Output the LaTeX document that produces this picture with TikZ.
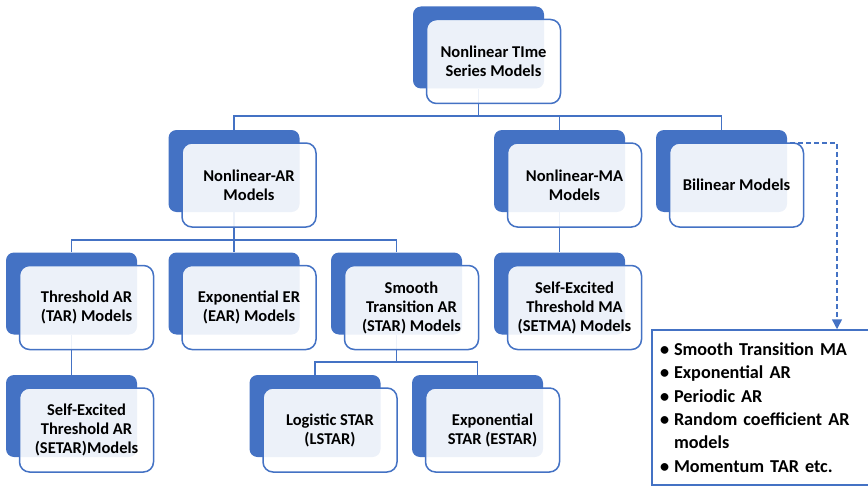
\documentclass[tikz,border=0pt]{standalone}
\usepackage{fontspec}
\setmainfont{Carlito}
\usetikzlibrary{arrows.meta,backgrounds}
\definecolor{acc}{RGB}{68,114,196}
\tikzset{
  backbox/.style={fill=acc, rounded corners=8pt, minimum width=131pt,
    minimum height=82pt, inner sep=0pt},
  frontbox/.style={draw=acc, line width=1.5pt, fill=white, fill opacity=0.9,
    text opacity=1, rounded corners=10pt, minimum width=134pt,
    minimum height=84pt, inner sep=0pt, align=center,
    font=\fontsize{16.5}{19}\selectfont\bfseries},
  conn/.style={draw=acc, line width=1.5pt},
  dashconn/.style={draw=acc, line width=1.5pt, dash pattern=on 5pt off 3pt,
    -{Triangle[width=10pt,length=10pt]}},
  listbox/.style={draw=acc, line width=1.5pt, fill=white,
    minimum width=219pt, minimum height=155pt, inner xsep=8pt, inner ysep=0pt,
    text width=203pt, align=left,
    font=\fontsize{18.2}{23.4}\selectfont\bfseries},
}
% a model box: dark card behind, translucent card in front carrying the text
\newcommand\modelbox[3]{%
  \node[backbox] (#1-b) at ([xshift=-15pt,yshift=14pt]#2) {};
  \node[frontbox] (#1) at (#2) {#3};
}
\newcommand\bul{\makebox[14pt][l]{\textbullet}}
\begin{document}
\begin{tikzpicture}[x=1pt,y=-1pt]
\useasboundingbox (0,0) rectangle (868,487);

\modelbox{top}{493.5,61.5}{Nonlinear TIme\\Series Models}
\modelbox{nar}{249,185}{Nonlinear-AR\\Models}
\modelbox{nma}{574.5,185}{Nonlinear-MA\\Models}
\modelbox{bil}{736.5,185}{Bilinear Models}
\modelbox{tar}{86.5,307.5}{Threshold AR\\(TAR) Models}
\modelbox{ear}{249,307.5}{Exponential ER\\(EAR) Models}
\modelbox{star}{411.5,307.5}{Smooth\\Transition AR\\(STAR) Models}
\modelbox{setma}{574.5,307.5}{Self-Excited\\Threshold MA\\(SETMA) Models}
\modelbox{setar}{86.5,430}{Self-Excited\\Threshold AR\\(SETAR)Models}
\modelbox{lstar}{330,430}{Logistic STAR\\(LSTAR)}
\modelbox{estar}{492.5,430}{Exponential\\STAR (ESTAR)}

\node[listbox] (list) at (761.5,407.5) {%
  \bul Smooth Transition MA\\
  \bul Exponential AR\\
  \bul Periodic AR\\
  \bul Random coefficient AR\\
  \hspace*{14pt}models\\
  \bul Momentum TAR etc.};

% bus lines of the tree
\coordinate (bus1) at (0,116);
\coordinate (bus2) at (0,240);
\coordinate (bus3) at (0,362);
\coordinate (drop) at (837,0);

\begin{scope}[on background layer]
  \draw[conn] (top-b.south) -- (top-b.south |- bus1);
  \draw[conn] (nar-b.north) |- (bil-b.north |- bus1) -- (bil-b.north);
  \draw[conn] (nma-b.north) -- (nma-b.north |- bus1);
  \draw[conn] (nar-b.south) -- (ear-b.north);
  \draw[conn] (tar-b.north) |- (star-b.north |- bus2) -- (star-b.north);
  \draw[conn] (nma-b.south) -- (setma-b.north);
  \draw[conn] (tar-b.south) -- (setar-b.north);
  \draw[conn] (star-b.south) -- (star-b.south |- bus3);
  \draw[conn] (lstar-b.north) |- (estar-b.north |- bus3) -- (estar-b.north);
\end{scope}

\draw[dashconn] ([xshift=-26.5pt,yshift=-0.5pt]bil.north) -| (drop |- list.north);
\end{tikzpicture}
\end{document}
